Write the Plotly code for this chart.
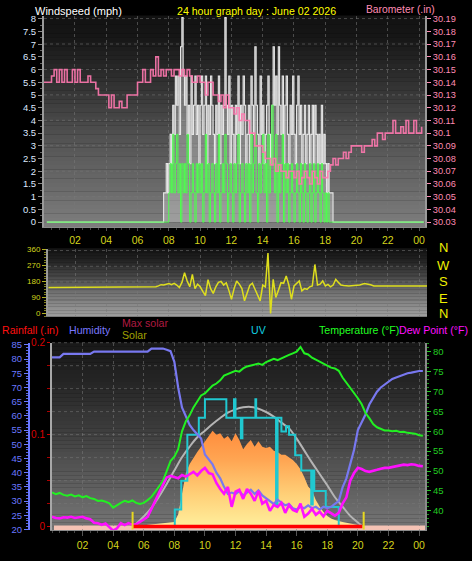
import plotly.graph_objects as go

W, H = 472, 561
FONT = "Liberation Sans"


def px_x(p):
    return p / W


def px_y(p):
    return 1 - p / H


# ---------------- axis ticks ----------------
hour_ticks = [2, 4, 6, 8, 10, 12, 14, 16, 18, 20, 22, 24]
hour_labels = ["02", "04", "06", "08", "10", "12", "14", "16", "18", "20", "22", "00"]
wind_ticks = [0, 0.5, 1, 1.5, 2, 2.5, 3, 3.5, 4, 4.5, 5, 5.5, 6, 6.5, 7, 7.5, 8]
baro_ticks = [30.03, 30.04, 30.05, 30.06, 30.07, 30.08, 30.09, 30.10, 30.11,
              30.12, 30.13, 30.14, 30.15, 30.16, 30.17, 30.18, 30.19]
baro_labels = ["30.03", "30.04", "30.05", "30.06", "30.07", "30.08", "30.09", "30.1", "30.11",
               "30.12", "30.13", "30.14", "30.15", "30.16", "30.17", "30.18", "30.19"]
dir_ticks = [0, 90, 180, 270, 360]
hum_ticks = [20, 25, 30, 35, 40, 45, 50, 55, 60, 65, 70, 75, 80, 85]
temp_ticks = [40, 45, 50, 55, 60, 65, 70, 75, 80]
rain_ticks = [0, 0.1, 0.2]
rain_labels = ["0", "0.1", "0.2"]

# ---------------- wind (5-minute samples from 07:30) ----------------
wind_start = 7.5
wind_step = 1 / 12
gust_mph = [
    0, 0, 1.15, 1.15, 2.3, 1.15,
    2.3, 3.45, 2.3, 4.6, 3.45, 5.75, 4.6, 5.75, 3.45, 6.9, 8.05, 5.75,
    4.6, 5.75, 3.45, 4.6, 2.3, 5.75, 3.45, 4.6, 5.75, 3.45, 4.6, 2.3,
    4.6, 5.75, 3.45, 4.6, 5.75, 2.3, 4.6, 3.45, 5.75, 4.6, 3.45, 2.3,
    4.6, 3.45, 5.75, 2.3, 4.6, 3.45, 4.6, 8.05, 4.6, 3.45, 5.75, 2.3,
    4.6, 3.45, 2.3, 4.6, 3.45, 5.75, 2.3, 4.6, 3.45, 5.75, 4.6, 2.3,
    3.45, 4.6, 2.3, 5.75, 4.6, 3.45, 6.9, 4.6, 3.45, 2.3, 5.75, 3.45,
    4.6, 2.3, 3.45, 4.6, 5.75, 3.45, 2.3, 4.6, 6.9, 4.6, 5.75, 3.45,
    6.9, 4.6, 3.45, 5.75, 2.3, 4.6, 5.75, 3.45, 2.3, 4.6, 3.45, 5.75,
    3.45, 2.3, 4.6, 5.75, 3.45, 4.6, 2.3, 3.45, 4.6, 2.3, 3.45, 4.6,
    2.3, 3.45, 4.6, 2.3, 4.6, 3.45, 2.3, 3.45, 2.3, 4.6, 2.3, 3.45,
    2.3, 1.15, 2.3, 1.15, 1.15, 1.15, 0, 0, 0,
]
speed_mph = [
    0, 0, 0, 0, 0, 0,
    1.15, 2.3, 1.15, 3.45, 1.15, 2.3, 3.45, 1.15, 2.3, 0, 2.3, 1.15,
    2.3, 1.15, 3.45, 2.3, 0, 1.15, 2.3, 1.15, 0, 2.3, 1.15, 2.3,
    1.15, 2.3, 0, 1.15, 3.45, 1.15, 2.3, 0, 1.15, 2.3, 1.15, 0,
    2.3, 1.15, 3.45, 0, 1.15, 2.3, 1.15, 3.45, 2.3, 0, 1.15, 2.3,
    1.15, 0, 2.3, 1.15, 2.3, 3.45, 0, 1.15, 2.3, 1.15, 0, 2.3,
    1.15, 2.3, 0, 3.45, 1.15, 2.3, 3.45, 1.15, 0, 2.3, 1.15, 2.3,
    3.45, 1.15, 2.3, 0, 3.45, 1.15, 2.3, 4.6, 2.3, 1.15, 3.45, 0,
    2.3, 1.15, 2.3, 3.45, 0, 2.3, 1.15, 2.3, 0, 1.15, 2.3, 1.15,
    0, 1.15, 2.3, 1.15, 0, 2.3, 1.15, 0, 2.3, 1.15, 0, 1.15,
    2.3, 0, 1.15, 2.3, 0, 1.15, 2.3, 1.15, 0, 2.3, 1.15, 0,
    1.15, 0, 1.15, 0, 0, 0, 0, 0, 0,
]
wind_calm_start = 0.2
wind_calm_end = 24.3

# ---------------- barometer (10-minute samples from 00:00) ----------------
baro_step = 1 / 6
baro_inhg = [
    30.14, 30.14, 30.14, 30.145, 30.15, 30.14,
    30.15, 30.14, 30.15, 30.14, 30.14, 30.15,
    30.14, 30.15, 30.14, 30.14, 30.14, 30.145,
    30.14, 30.14, 30.135, 30.13, 30.13, 30.13,
    30.13, 30.12, 30.13, 30.12, 30.12, 30.125,
    30.12, 30.12, 30.13, 30.13, 30.13, 30.13,
    30.14, 30.14, 30.15, 30.14, 30.14, 30.15,
    30.145, 30.16, 30.145, 30.15, 30.145, 30.15,
    30.15, 30.145, 30.15, 30.15, 30.145, 30.15,
    30.145, 30.15, 30.145, 30.14, 30.14, 30.145,
    30.14, 30.14, 30.13, 30.14, 30.14, 30.13,
    30.13, 30.125, 30.13, 30.12, 30.13, 30.12,
    30.12, 30.115, 30.12, 30.11, 30.115, 30.11,
    30.11, 30.10, 30.10, 30.09, 30.09, 30.09,
    30.085, 30.08, 30.08, 30.075, 30.08, 30.07,
    30.075, 30.07, 30.07, 30.065, 30.07, 30.07,
    30.065, 30.07, 30.06, 30.065, 30.07, 30.065,
    30.06, 30.07, 30.065, 30.06, 30.07, 30.065,
    30.065, 30.07, 30.075, 30.08, 30.075, 30.08,
    30.08, 30.085, 30.08, 30.085, 30.09, 30.09,
    30.09, 30.09, 30.085, 30.09, 30.09, 30.09,
    30.095, 30.09, 30.10, 30.10, 30.095, 30.10,
    30.10, 30.10, 30.11, 30.10, 30.10, 30.105,
    30.10, 30.11, 30.10, 30.10, 30.11, 30.10,
    30.10, 30.105,
]

# ---------------- wind direction ----------------
dir_head_hours = [0.3]
dir_head_deg = [146]
dir_start = 7.0
dir_step = 1 / 6
dir_deg = [
    146, 150, 155, 162, 160, 165,
    168, 162, 170, 160, 146, 175,
    229, 183, 150, 220, 140, 165,
    150, 124, 100, 190, 140, 113,
    150, 175, 180, 160, 173, 130,
    80, 140, 183, 165, 140, 71,
    120, 158, 170, 140, 108, 71,
    160, 150, 341, 0, 192, 90,
    130, 173, 170, 211, 160, 80,
    155, 170, 183, 127, 140, 136,
    150, 155, 276, 160, 165, 183,
    155, 164, 150, 160, 192, 175,
    160, 158, 155, 155,
]
dir_tail_hours = [20.2, 20.5, 20.9, 21.1, 24.5]
dir_tail_deg = [160, 168, 162, 155, 155]

# ---------------- temperature / dew point / humidity (15-minute samples) ----------------
q_step = 0.25
temp_f = [
    44.6, 44.2, 44.5, 44.0, 43.8, 44.1, 43.6, 43.9,
    43.4, 43.7, 43.2, 43.0, 42.5, 42.6, 42.3, 41.9,
    40.8, 41.5, 42.0, 42.5, 42.2, 42.6, 42.0, 41.7,
    42.0, 42.7, 43.5, 44.8, 46.0, 47.5, 50.0, 52.5,
    53.6, 55.5, 60.0, 62.5, 64.0, 66.0, 67.5, 69.0,
    69.5, 70.5, 71.5, 72.0, 72.8, 74.0, 74.4, 75.0,
    75.2, 75.0, 75.8, 76.3, 76.5, 76.8, 77.0, 76.7,
    77.4, 77.8, 78.2, 77.9, 78.4, 78.9, 79.2, 79.6,
    80.0, 81.2, 79.6, 79.3, 78.5, 78.0, 77.6, 77.0,
    76.5, 76.0, 75.8, 75.2, 73.5, 72.2, 71.0, 69.8,
    68.3, 66.8, 64.6, 63.3, 61.8, 61.0, 60.5, 60.2,
    60.2, 60.0, 60.1, 59.8, 59.9, 59.6, 59.5, 59.4,
    59.0, 58.9,
]
dew_f = [
    38.5, 38.2, 38.1, 38.4, 38.3, 38.5, 38.2, 38.4,
    38.5, 38.1, 37.9, 37.0, 36.9, 36.5, 36.8, 35.9,
    35.0, 35.6, 36.9, 36.4, 36.9, 36.5, 36.6, 37.2,
    37.8, 38.5, 40.5, 42.7, 44.5, 46.5, 48.4, 48.8,
    48.4, 48.2, 49.0, 48.6, 49.2, 49.8, 48.9, 50.0,
    50.8, 49.5, 49.2, 47.0, 45.5, 44.3, 46.0, 41.0,
    44.8, 45.3, 43.0, 45.5, 44.3, 42.5, 45.0, 41.8,
    42.5, 40.0, 41.5, 41.0, 42.0, 39.5, 41.5, 40.2,
    39.8, 41.8, 38.5, 39.3, 40.5, 39.0, 39.8, 38.6,
    40.0, 39.3, 38.8, 39.5, 41.8, 43.4, 47.6, 49.5,
    50.8, 50.5, 50.0, 49.8, 50.0, 50.3, 50.6, 50.8,
    50.8, 51.0, 51.2, 51.4, 51.6, 51.5, 51.7, 51.6,
    51.3, 51.2,
]
humidity_pct = [
    80.6, 80.6, 80.6, 81.8, 81.8, 81.8, 81.8, 81.8,
    81.8, 81.8, 81.8, 82.6, 82.6, 82.6, 82.6, 82.6,
    82.6, 82.6, 82.6, 82.6, 82.6, 82.6, 82.6, 82.6,
    82.6, 82.6, 83.7, 83.7, 83.7, 83.7, 83.3, 82.8,
    79.0, 70.0, 63.0, 60.0, 56.8, 55.0, 53.5, 52.0,
    46.4, 44.5, 42.9, 40.0, 38.0, 35.0, 32.5, 33.0,
    32.5, 33.5, 32.0, 33.0, 34.0, 32.5, 33.8, 32.0,
    31.0, 30.0, 29.0, 30.5, 29.5, 28.5, 29.0, 27.5,
    27.0, 28.0, 27.5, 28.5, 27.5, 28.0, 27.0, 28.0,
    27.5, 28.0, 29.0, 30.0, 34.8, 38.0, 43.0, 48.0,
    55.0, 57.5, 60.5, 64.0, 66.5, 68.5, 70.0, 71.0,
    72.0, 73.0, 73.5, 74.0, 74.5, 75.0, 75.2, 75.5,
    75.8, 75.8,
]

# ---------------- solar (15-minute samples from 05:15), W/m2 ----------------
solar_start = 5.25
solar_wm2 = [
    0, 3, 5, 8, 12, 15, 18, 22, 25, 30, 30,
    35, 90, 260, 400, 470, 520, 560, 600, 640, 680, 720, 690,
    700, 660, 680, 640, 700, 650, 580, 620, 650, 600, 640, 600,
    590, 600, 570, 560, 540, 540, 520, 500, 470, 430, 370, 300,
    270, 200, 150, 110, 80, 60, 50, 40, 35, 28, 22, 15, 10, 3, 0,
]
max_solar_hours = [5.25, 5.5, 6.0, 6.5, 7.0, 7.5, 8.0, 8.5, 9.0, 9.5, 10.0, 10.5,
                   11.0, 11.5, 12.0, 12.5, 13.0, 13.5, 14.0, 14.5, 15.0, 15.5,
                   16.0, 16.5, 17.0, 17.5, 18.0, 18.5, 19.0, 19.5, 20.0, 20.3]
max_solar_wm2 = [0, 20, 75, 140, 225, 320, 420, 520, 600, 670, 720, 770,
                 815, 855, 880, 895, 898, 885, 860, 825, 780, 737,
                 660, 570, 480, 395, 310, 220, 150, 80, 30, 0]

# ---------------- UV index (steps) ----------------
uv_hours = [7.9, 8.03, 8.45, 8.85, 9.6, 10.0, 11.4, 11.9, 12.0, 12.35, 12.45,
            13.3, 13.35, 14.65, 14.75, 15.0, 15.3, 15.5, 15.9, 16.3, 16.95,
            17.05, 17.15, 17.9, 18.75]
uv_index = [0, 1.0, 2.7, 5.4, 6.4, 7.5, 6.4, 7.5, 6.4, 5.2, 6.4,
            7.5, 6.4, 1.2, 6.4, 5.6, 5.9, 5.4, 4.2, 3.3, 1.3,
            3.3, 2.1, 1.15, 0]

# ---------------- rainfall ----------------
rain_hours = [5.3, 20.3]
rain_in = [0, 0]
sun_events = [5.27, 20.38]

# ---------------- build times ----------------
gust_hours = [wind_calm_start] + [wind_start + i * wind_step for i in range(len(gust_mph))] + [wind_calm_end]
gust_vals = [0] + gust_mph + [0]
speed_hours = [wind_calm_start] + [wind_start + i * wind_step for i in range(len(speed_mph))] + [wind_calm_end]
speed_vals = [0] + speed_mph + [0]
baro_hours = [i * baro_step for i in range(len(baro_inhg))]
dir_hours = dir_head_hours + [dir_start + i * dir_step for i in range(len(dir_deg))] + dir_tail_hours
dir_vals = dir_head_deg + dir_deg + dir_tail_deg
temp_hours = [i * q_step for i in range(len(temp_f))]
dew_hours = [i * q_step for i in range(len(dew_f))]
hum_hours = [i * q_step for i in range(len(humidity_pct))]
solar_hours = [solar_start + i * q_step for i in range(len(solar_wm2))]

fig = go.Figure()

# top panel
fig.add_trace(go.Scatter(x=gust_hours, y=gust_vals, mode="lines", line_shape="hv",
                         line=dict(color="#e6e6e6", width=1.1), fill="tozeroy",
                         fillcolor="rgba(215,215,215,0.38)", xaxis="x", yaxis="y"))
fig.add_trace(go.Scatter(x=speed_hours, y=speed_vals, mode="lines", line_shape="hv",
                         line=dict(color="#4cff4c", width=1.0), xaxis="x", yaxis="y"))
fig.add_trace(go.Scatter(x=baro_hours, y=baro_inhg, mode="lines", line_shape="hv",
                         line=dict(color="rgba(255,120,175,0.9)", width=1.6), xaxis="x", yaxis="y2"))

# middle panel
fig.add_trace(go.Scatter(x=dir_hours, y=dir_vals, mode="lines",
                         line=dict(color="#dede1e", width=1.5), xaxis="x2", yaxis="y3"))

# bottom panel
fig.add_trace(go.Scatter(x=solar_hours, y=solar_wm2, mode="lines", line=dict(width=0, color="#ff9a48"),
                         fill="tozeroy",
                         fillgradient=dict(type="vertical", start=0, stop=740,
                                           colorscale=[[0, "#fff2a0"], [0.35, "#ffd078"],
                                                       [0.7, "#ffa552"], [1, "#ff8c3c"]]),
                         xaxis="x3", yaxis="y4"))
fig.add_trace(go.Scatter(x=max_solar_hours, y=max_solar_wm2, mode="lines", line_shape="spline",
                         line=dict(color="#b4b4b4", width=2), xaxis="x3", yaxis="y4"))
fig.add_trace(go.Scatter(x=uv_hours, y=uv_index, mode="lines", line_shape="hv",
                         line=dict(color="#20c8d0", width=2), xaxis="x3", yaxis="y5"))
fig.add_trace(go.Scatter(x=hum_hours, y=humidity_pct, mode="lines",
                         line=dict(color="#7878f0", width=2.2), xaxis="x3", yaxis="y6"))
fig.add_trace(go.Scatter(x=temp_hours, y=temp_f, mode="lines",
                         line=dict(color="#22f022", width=2), xaxis="x3", yaxis="y7"))
fig.add_trace(go.Scatter(x=dew_hours, y=dew_f, mode="lines",
                         line=dict(color="#ff10ff", width=2.6), xaxis="x3", yaxis="y7"))
fig.add_trace(go.Scatter(x=rain_hours, y=rain_in, mode="lines",
                         line=dict(color="#ff0000", width=3.5), xaxis="x3", yaxis="y8"))

# ---------------- background gradients & grids (styling) ----------------
shapes = []


def gradient(top, bot, left, right, stops, n=48):
    for i in range(n):
        y0 = top + (bot - top) * i / n
        y1 = top + (bot - top) * (i + 1) / n
        ym = (y0 + y1) / 2
        for (pa, ga), (pb, gb) in zip(stops[:-1], stops[1:]):
            if pa <= ym <= pb:
                g = ga + (gb - ga) * (ym - pa) / (pb - pa)
                break
        else:
            g = stops[-1][1]
        g = int(round(g))
        shapes.append(dict(type="rect", xref="paper", yref="paper", layer="below",
                           x0=px_x(left), x1=px_x(right), y0=px_y(y1), y1=px_y(y0) + 0.0005,
                           line=dict(width=0), fillcolor=f"rgb({g},{g},{g})"))


gradient(10, 225, 44, 425, [(10, 18), (30, 22), (60, 38), (110, 68), (160, 95), (225, 125)])
gradient(247, 316, 48, 427, [(247, 20), (258, 32), (275, 70), (295, 120), (316, 158)])
gradient(343, 534, 52, 425, [(343, 24), (380, 36), (430, 60), (480, 90), (534, 118)])

grid_col = "rgba(120,120,120,0.55)"
for k in range(9):
    yp = 220 - k * 25.9
    shapes.append(dict(type="line", xref="paper", yref="paper", layer="below",
                       x0=px_x(44), x1=px_x(425), y0=px_y(yp), y1=px_y(yp),
                       line=dict(color=grid_col, width=1, dash="dot")))
for yp in [249, 265, 281]:
    shapes.append(dict(type="line", xref="paper", yref="paper", layer="below",
                       x0=px_x(48), x1=px_x(427), y0=px_y(yp), y1=px_y(yp),
                       line=dict(color=grid_col, width=1, dash="dot")))
for k in range(9):
    yp = 530 - k * 23.4
    shapes.append(dict(type="line", xref="paper", yref="paper", layer="below",
                       x0=px_x(52), x1=px_x(425), y0=px_y(yp), y1=px_y(yp),
                       line=dict(color=grid_col, width=1, dash="dot")))
shapes.append(dict(type="rect", xref="paper", yref="paper", layer="below",
                   x0=px_x(54), x1=px_x(425), y0=px_y(534), y1=px_y(529),
                   line=dict(width=0), fillcolor="#f4c2b4"))
for h in sun_events:
    shapes.append(dict(type="line", xref="x3", yref="paper", layer="above",
                       x0=h, x1=h, y0=px_y(533), y1=px_y(515),
                       line=dict(color="#e8d820", width=2)))

xgrid = dict(showgrid=True, gridcolor=grid_col, griddash="dot", gridwidth=1)

fig.update_layout(
    width=W, height=H, autosize=False,
    margin=dict(l=0, r=0, t=0, b=0, pad=0),
    paper_bgcolor="#000000", plot_bgcolor="rgba(0,0,0,0)",
    showlegend=False,
    font=dict(family=FONT, size=10, color="#ffffff"),
    shapes=shapes,
    xaxis=dict(domain=[px_x(44), px_x(425)], range=[0.02, 24.38], anchor="y",
               tickvals=hour_ticks, ticktext=hour_labels,
               tickfont=dict(color="#d4d41c", size=10.5, family=FONT),
               ticks="outside", ticklen=3, tickcolor="#555555",
               minor=dict(dtick=0.5, ticks="outside", ticklen=2, tickcolor="#444444"),
               showline=True, linecolor="#8a8a8a", linewidth=1, zeroline=False, **xgrid),
    yaxis=dict(domain=[px_y(225), px_y(10)], range=[-0.193, 8.116], anchor="x",
               tickvals=wind_ticks, ticktext=[f"{v:g}" for v in wind_ticks],
               tickfont=dict(color="#dde8ff", size=9.5, family=FONT),
               ticks="outside", ticklen=4, tickcolor="#888888",
               minor=dict(dtick=0.25, ticks="outside", ticklen=2, tickcolor="#666666"),
               showline=True, linecolor="#9a9a9a", linewidth=2,
               showgrid=False, zeroline=False),
    yaxis2=dict(overlaying="y", side="right", anchor="x", range=[30.02614, 30.19232],
                tickvals=baro_ticks, ticktext=baro_labels,
                tickfont=dict(color="#ff8cb4", size=9.2, family=FONT),
                ticks="outside", ticklen=4, tickcolor="#ff8cb4",
                showline=True, linecolor="#9a9a9a", linewidth=2,
                showgrid=False, zeroline=False),
    xaxis2=dict(domain=[px_x(48), px_x(427)], range=[0.27, 24.5], anchor="y3",
                tickvals=hour_ticks, showticklabels=False, ticks="",
                showline=True, linecolor="#7a7a7a", zeroline=False, **xgrid),
    yaxis3=dict(domain=[px_y(316), px_y(247)], range=[-16.6, 365.5], anchor="x2",
                tickvals=dir_ticks, ticktext=[str(v) for v in dir_ticks],
                tickfont=dict(color="#d4d41c", size=8, family=FONT),
                ticks="outside", ticklen=4, tickcolor="#b0b020",
                minor=dict(dtick=15, ticks="outside", ticklen=2, tickcolor="#808020"),
                showline=True, linecolor="#9a9a9a", linewidth=2,
                showgrid=False, zeroline=False),
    xaxis3=dict(domain=[px_x(52), px_x(425)], range=[0, 24.39], anchor="y4",
                tickvals=hour_ticks, ticktext=hour_labels,
                tickfont=dict(color="#d4d41c", size=10.5, family=FONT),
                ticks="outside", ticklen=5, tickcolor="#555555",
                minor=dict(dtick=0.5, ticks="outside", ticklen=2, tickcolor="#444444"),
                showline=True, linecolor="#8a8a8a", zeroline=False, **xgrid),
    yaxis4=dict(domain=[px_y(534), px_y(343)], range=[-29.5, 1379], anchor="x3",
                visible=False),
    yaxis5=dict(overlaying="y4", anchor="x3", range=[-0.231, 10.81], visible=False),
    yaxis6=dict(overlaying="y4", anchor="free", position=px_x(29), side="left",
                range=[19.65, 85.69], tickvals=hum_ticks, ticktext=[str(v) for v in hum_ticks],
                tickfont=dict(color="#6a78ff", size=9.5, family=FONT),
                ticks="outside", ticklen=4, tickcolor="#6a78ff",
                minor=dict(dtick=1, ticks="outside", ticklen=2, tickcolor="#5a66e0"),
                showline=True, linecolor="#6a78ff", linewidth=2,
                showgrid=False, zeroline=False),
    yaxis7=dict(overlaying="y4", anchor="x3", side="right", range=[35.06, 82.22],
                tickvals=temp_ticks, ticktext=[str(v) for v in temp_ticks],
                tickfont=dict(color="#22cc22", size=9.5, family=FONT),
                ticks="outside", ticklen=4, tickcolor="#22cc22",
                minor=dict(dtick=1, ticks="outside", ticklen=2, tickcolor="#1a9a1a"),
                showline=True, linecolor="#8a8a8a", linewidth=2,
                showgrid=False, zeroline=False),
    yaxis8=dict(overlaying="y4", anchor="x3", side="left", range=[-0.00428, 0.2],
                tickvals=rain_ticks, ticktext=rain_labels,
                tickfont=dict(color="#dd0000", size=10, family=FONT),
                ticks="outside", ticklen=3, tickcolor="#cc0000",
                minor=dict(dtick=0.025, ticks="outside", ticklen=3, tickcolor="#aa0000"),
                showline=True, linecolor="#a8a8a8", linewidth=2,
                showgrid=False, zeroline=False),
)


def label(text, x, y, color, size=10.6, anchor="left"):
    fig.add_annotation(text=text, xref="paper", yref="paper", x=px_x(x), y=px_y(y),
                       xanchor=anchor, yanchor="middle", showarrow=False,
                       font=dict(family=FONT, size=size, color=color))


label("Windspeed (mph)", 33, 5, "#ffffff", size=11)
label("24 hour graph day : June 02 2026", 175, 5, "#ffff00")
label("Barometer (.in)", 364, 4, "#ff8cb4", size=10.3)
for t, yy in zip(["N", "W", "S", "E", "N"], [246, 264, 281, 298, 313]):
    label(t, 443, yy, "#f0f000", size=13, anchor="center")
label("Rainfall (.in)", 0, 330, "#ff1010")
label("Humidity", 67, 330, "#7878ff")
label("Max solar", 120, 323, "#b01a40")
label("Solar", 120, 335, "#a0a000")
label("UV", 249, 330, "#10d0e0")
label("Temperature (°F)", 317, 330, "#22ff22")
label("Dew Point (°F)", 397, 330, "#ff10ff")

fig.write_html("out.html", config={"displayModeBar": False},
               post_script="document.body.style.margin='0';document.body.style.overflow='hidden';")
